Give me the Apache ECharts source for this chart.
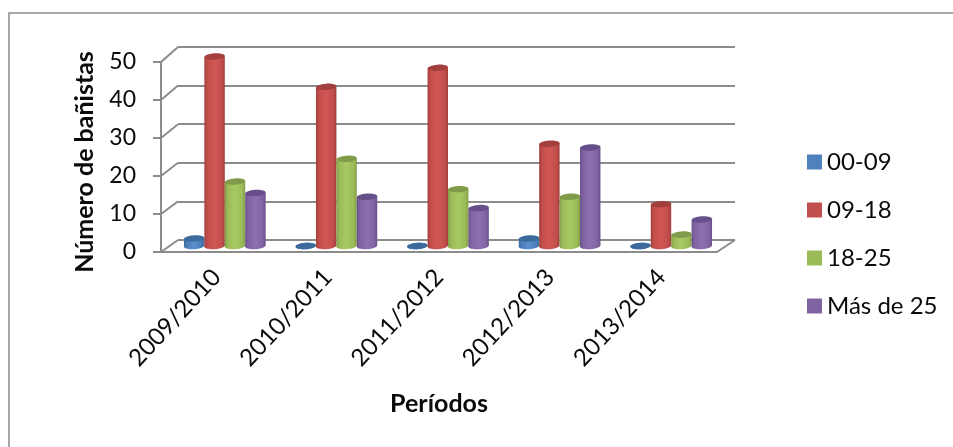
<!DOCTYPE html>
<html>
<head>
<meta charset="utf-8">
<style>
  html, body { margin: 0; padding: 0; background: #fff; }
  #chart { width: 953px; height: 447px; }
</style>
<script src="https://cdn.jsdelivr.net/npm/echarts@6/dist/echarts.min.js"></script>
</head>
<body>
<div id="chart"></div>
<script>
var periods = ['2009/2010', '2010/2011', '2011/2012', '2012/2013', '2013/2014']
var ticks = [0, 10, 20, 30, 40, 50]
var v0009 = [2, 0, 0, 2, 0]
var v0918 = [50, 42, 47, 27, 11]
var v1825 = [17, 23, 15, 13, 3]
var vMas25 = [14, 13, 10, 26, 7]

var font = 'Lato'
var gridColor = '#8c8c8c'
var textColor = '#0a0a0a'

// three planes of the fake 3D box: front axis, bars, back wall
var front = { left: 161, top: 62, width: 556, height: 190 }
var bars = { left: 169, top: 56.5, width: 558, height: 189.5 }
var wall = { left: 178, top: 47, width: 557, height: 193 }

// side lines and floor, from the front axis to the back wall
function renderBox(params, api) {
  var v = api.value(0)
  var p = api.coord([0, v])
  var backY = wall.top + wall.height * (1 - v / 50)
  var line = { stroke: gridColor, lineWidth: 2, fill: null }
  var children = [{
    type: 'line',
    shape: { x1: front.left, y1: p[1], x2: wall.left, y2: backY },
    style: line
  }]
  if (v === 0) {
    children.push({
      type: 'line',
      shape: { x1: front.left + front.width, y1: p[1], x2: wall.left + wall.width, y2: backY },
      style: line
    })
  }
  return { type: 'group', children: children }
}

function cylinderFill(dark, mid, light) {
  return new echarts.graphic.LinearGradient(0, 0, 1, 0, [
    { offset: 0, color: dark },
    { offset: 0.15, color: mid },
    { offset: 0.5, color: light },
    { offset: 0.85, color: mid },
    { offset: 1, color: dark }
  ])
}

function renderCylinder(pos, colors) {
  var fill = cylinderFill(colors.dark, colors.mid, colors.light)
  return function (params, api) {
    var idx = api.value(0)
    var top = api.coord([idx, api.value(1)])
    var base = api.coord([idx, 0])
    var band = api.size([1, 0])[0]
    var w = band * 0.183
    var cx = top[0] + (pos - 1.5) * w
    var rx = w / 2
    var ry = 3.2
    var tilt = 0.7
    return {
      type: 'group',
      children: [{
        type: 'ellipse',
        shape: { cx: cx, cy: base[1], rx: rx, ry: ry },
        rotation: 0.07,
        originX: cx,
        originY: base[1],
        style: { fill: fill }
      }, {
        type: 'polygon',
        shape: {
          points: [
            [cx - rx, top[1] + tilt], [cx + rx, top[1] - tilt],
            [cx + rx, base[1] - tilt], [cx - rx, base[1] + tilt]
          ]
        },
        style: { fill: fill }
      }, {
        type: 'ellipse',
        shape: { cx: cx, cy: top[1], rx: rx, ry: ry },
        rotation: 0.07,
        originX: cx,
        originY: top[1],
        style: { fill: colors.cap }
      }]
    }
  }
}

function cylinderSeries(name, values, pos, colors) {
  return {
    name: name,
    type: 'custom',
    xAxisIndex: 1,
    yAxisIndex: 1,
    itemStyle: { color: colors.legend },
    encode: { x: 0, y: 1 },
    data: values.map(function (v, i) { return [i, v] }),
    renderItem: renderCylinder(pos, colors),
    z: 5
  }
}

var chart = echarts.init(document.getElementById('chart'))
chart.setOption({
  animation: false,
  backgroundColor: '#fff',
  textStyle: { fontFamily: font },
  graphic: [{
    type: 'rect',
    shape: { x: 9, y: 13, width: 1000, height: 1000 },
    style: { fill: null, stroke: gridColor, lineWidth: 1.5 }
  }],
  legend: {
    orient: 'vertical',
    left: 807,
    top: 150,
    padding: 0,
    itemWidth: 15,
    itemHeight: 15,
    itemGap: 24,
    icon: 'rect',
    textStyle: { fontFamily: font, fontSize: 24, color: textColor },
    data: ['00-09', '09-18', '18-25', 'Más de 25']
  },
  grid: [front, bars, wall],
  xAxis: [{
    gridIndex: 0,
    type: 'category',
    data: periods,
    axisLine: { lineStyle: { color: gridColor, width: 2 } },
    axisTick: { show: false },
    axisLabel: { interval: 0, rotate: 47, fontFamily: font, fontSize: 24, color: textColor, margin: 21 },
    name: 'Períodos',
    nameLocation: 'middle',
    nameGap: 139,
    nameTextStyle: { fontFamily: font, fontSize: 25, fontWeight: 'bold', color: textColor }
  }, {
    gridIndex: 1,
    type: 'category',
    data: periods,
    show: false
  }, {
    gridIndex: 2,
    type: 'category',
    data: periods,
    show: false
  }],
  yAxis: [{
    gridIndex: 0,
    type: 'value',
    min: 0,
    max: 50,
    interval: 10,
    axisLine: { show: true, lineStyle: { color: gridColor, width: 2 } },
    axisTick: { show: true, length: 8, lineStyle: { color: gridColor, width: 2 } },
    axisLabel: { fontFamily: font, fontSize: 23, color: textColor, margin: 25, padding: [5, 0, 0, 0] },
    splitLine: { show: false },
    name: 'Número de bañistas',
    nameLocation: 'middle',
    nameGap: 64,
    nameRotate: 90,
    nameTextStyle: { fontFamily: font, fontSize: 25, fontWeight: 'bold', color: textColor, padding: [0, 10, 0, 0] }
  }, {
    gridIndex: 1,
    type: 'value',
    min: 0,
    max: 50,
    show: false
  }, {
    gridIndex: 2,
    type: 'value',
    min: 0,
    max: 50,
    interval: 10,
    axisLine: { show: false },
    axisTick: { show: false },
    axisLabel: { show: false },
    splitLine: { show: true, lineStyle: { color: gridColor, width: 2 } }
  }],
  series: [
    {
      type: 'custom',
      xAxisIndex: 0,
      yAxisIndex: 0,
      encode: { y: 0 },
      data: ticks.map(function (t) { return [t] }),
      renderItem: renderBox,
      silent: true,
      z: 1
    },
    cylinderSeries('00-09', v0009, 0, { dark: '#3d6c9f', mid: '#4a7db8', light: '#5a90cc', cap: '#3d6a9c', legend: '#4f81bd' }),
    cylinderSeries('09-18', v0918, 1, { dark: '#a03e3b', mid: '#c24e4b', light: '#d05854', cap: '#a33f3c', legend: '#c0504d' }),
    cylinderSeries('18-25', v1825, 2, { dark: '#849f48', mid: '#9bbb59', light: '#a8c963', cap: '#7f9a48', legend: '#9bbb59' }),
    cylinderSeries('Más de 25', vMas25, 3, { dark: '#68508c', mid: '#8064a2', light: '#8e70b2', cap: '#67508a', legend: '#8064a2' })
  ]
})
</script>
</body>
</html>
